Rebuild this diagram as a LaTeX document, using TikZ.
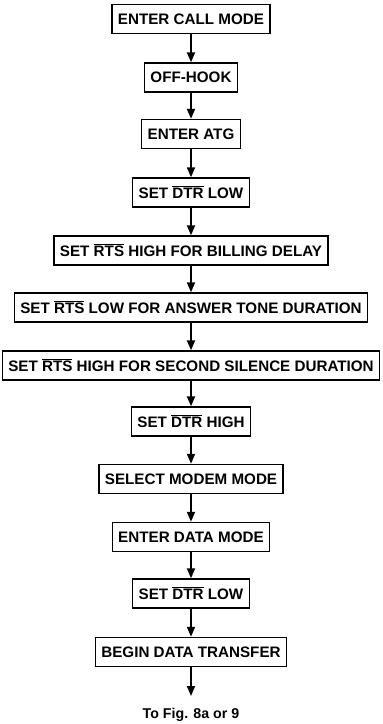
\documentclass[tikz,border=0pt]{standalone}
\usepackage{fontspec}
\setmainfont{Liberation Sans}
\usetikzlibrary{arrows.meta}
\newcommand{\ovl}[1]{\leavevmode\vbox{\hrule height 1.1pt\kern 1.4pt\hbox{#1}}}

\begin{document}
\begin{tikzpicture}[x=1pt,y=1pt]
                \tikzstyle{every node}+=[font=\bfseries\fontsize{15.2}{18}\selectfont]
                \tikzstyle{stepbox}=[draw=black, line width=1.4pt, inner xsep=6pt, inner ysep=0pt, minimum height=29pt]
                \tikzstyle{flow}=[black, line width=1.8pt, -{Triangle[width=8pt,length=10pt]}]
                \useasboundingbox (0,0) rectangle (383,-724);
                \node [stepbox] (callmode) at (191,-19) {ENTER CALL MODE};
                \node [stepbox] (offhook) at (191,-77.5) {OFF-HOOK};
                \node [stepbox] (atg) at (191,-134) {ENTER ATG};
                \node [stepbox] (dtrlow) at (191,-192.5) {SET \ovl{DTR} LOW};
                \node [stepbox] (billing) at (191,-250.5) {SET \ovl{RTS} HIGH FOR BILLING DELAY};
                \node [stepbox] (answer) at (191,-307.5) {SET \ovl{RTS} LOW FOR ANSWER TONE DURATION};
                \node [stepbox] (silence) at (191,-365.5) {SET \ovl{RTS} HIGH FOR SECOND SILENCE DURATION};
                \node [stepbox] (dtrhigh) at (191,-421.5) {SET \ovl{DTR} HIGH};
                \node [stepbox] (modem) at (191,-479) {SELECT MODEM MODE};
                \node [stepbox] (datamode) at (191,-537) {ENTER DATA MODE};
                \node [stepbox] (dtrlowb) at (191,-593.5) {SET \ovl{DTR} LOW};
                \node [stepbox] (transfer) at (191,-652) {BEGIN DATA TRANSFER};
                \node [font=\bfseries\fontsize{14.2}{17}\selectfont] (tofig) at (191,-715) {To Fig. 8a or 9};
                \coordinate (out) at (191,-696);
                \draw [flow] (callmode) -- (offhook);
                \draw [flow] (offhook) -- (atg);
                \draw [flow] (atg) -- (dtrlow);
                \draw [flow] (dtrlow) -- (billing);
                \draw [flow] (billing) -- (answer);
                \draw [flow] (answer) -- (silence);
                \draw [flow] (silence) -- (dtrhigh);
                \draw [flow] (dtrhigh) -- (modem);
                \draw [flow] (modem) -- (datamode);
                \draw [flow] (datamode) -- (dtrlowb);
                \draw [flow] (dtrlowb) -- (transfer);
                \draw [flow] (transfer) -- (out);
\end{tikzpicture}
\end{document}
